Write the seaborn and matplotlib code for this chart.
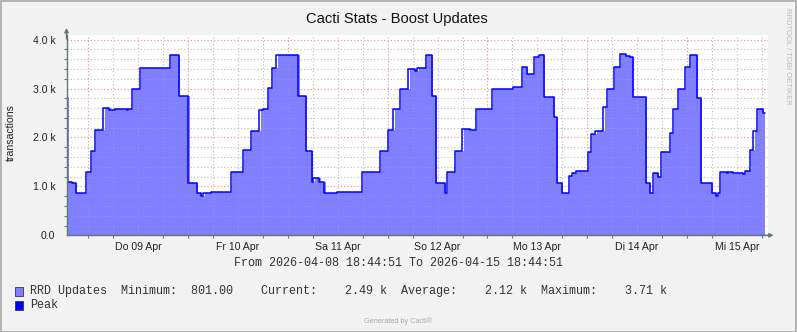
import matplotlib
matplotlib.use("Agg")
import matplotlib.pyplot as plt
import numpy as np
import pandas as pd
import seaborn as sns
from matplotlib.patches import Rectangle

# ---------------- data ----------------
# step start times (hours after 2026-04-08 18:44:51) and values (transactions)
hours = [0, 0.2, 1.4, 2.3, 4.7, 5.8, 6.9, 8.85, 10.3, 11.7, 14.5, 14.9, 15.8, 17.7,
         24.9, 27.1, 29.3, 31.3, 32.3, 32.9, 34.75, 39.6, 42.5, 44.4, 46.4, 47.2,
         48.4, 49.4, 50.45, 55.75, 57.6, 59.0, 59.35, 60.8, 62.0, 65.0, 71.1, 75.3,
         77.3, 78.6, 80.2, 82.2, 83.8, 84.4, 86.5, 87.8, 88.9, 90.95, 91.4, 93.4,
         95.2, 97.0, 98.5, 102.4, 107.4, 109.55, 110.75, 112.5, 113.6, 114.9, 117.2,
         117.9, 119.1, 120.8, 121.5, 122.5, 125.4, 126.2, 127.2, 129.1, 130.0, 131.7,
         133.1, 134.6, 135.5, 136.3, 139.4, 140.3, 141.0, 142.3, 143.0, 145.1, 145.9,
         147.1, 148.8, 149.95, 151.6, 152.6, 155.2, 156.2, 156.7, 157.2, 158.8, 159.2,
         160.3, 162.7, 163.25, 164.3, 165.2, 166.1, 167.5]
values = [2830, 1084, 1065, 871, 1288, 1718, 2147, 2603, 2570, 2580, 2560, 2580, 2992, 3415,
          3693, 2842, 1070, 858, 801, 858, 885, 1288, 1751, 2126, 2556, 2587,
          3018, 3415, 3693, 2842, 1718, 1084, 1180, 1084, 871, 885, 1294, 1718,
          2147, 2576, 2992, 3400, 3360, 3415, 3693, 2842, 1070, 858, 1294, 1718,
          2168, 2147, 2576, 2992, 3027, 3436, 3305, 3650, 3693, 2822, 2413,
          1070, 858, 1213, 1280, 1309, 1711, 2078, 2133, 2624, 2992, 3449,
          3710, 3667, 3650, 2822, 1070, 858, 1268, 1200, 1711, 2098, 2583,
          2985, 3436, 3693, 2815, 1070, 858, 804, 858, 1294, 1268, 1300,
          1280, 1260, 1315, 1745, 2133, 2583, 2495]
END_HOUR = 168

day_labels = ["Do 09 Apr", "Fr 10 Apr", "Sa 11 Apr", "So 12 Apr",
              "Mo 13 Apr", "Di 14 Apr", "Mi 15 Apr"]
first_midnight = 5.25  # hours from start to 2026-04-09 00:00
y_ticks = [0, 1000, 2000, 3000, 4000]
y_tick_labels = ["0.0", "1.0 k", "2.0 k", "3.0 k", "4.0 k"]

title = "Cacti Stats - Boost Updates"
ylabel = "transactions"
range_text = "From 2026-04-08 18:44:51 To 2026-04-15 18:44:51"
legend_rows = ["RRD Updates  Minimum:  801.00    Current:    2.49 k  Average:    2.12 k  Maximum:    3.71 k",
               "Peak"]

# ---------------- style ----------------
BG = "#F2F2F2"
AREA = "#7F7FFF"
LINE = "#0000FF"
AXIS = "#5F7A72"
MINOR_GRID = "#C4C4C4"
MAJOR_GRID = "#E39A9A"
AREA_LAG = 0.3

sns.set_theme(style="white")
plt.rcParams["font.family"] = ["Liberation Sans", "DejaVu Sans"]

W, H = 797, 332
fig = plt.figure(figsize=(W / 100, H / 100), dpi=100, facecolor=BG)

x0, x1 = 66.5, 768.0
yb, yt = 235.3, 35.0
px_per_hour = (765.0 - x0) / END_HOUR
ax = fig.add_axes([x0 / W, 1 - yb / H, (x1 - x0) / W, (yb - yt) / H])
ax.set_facecolor("white")

hx = list(hours) + [END_HOUR]
vy = list(values) + [values[-1]]
df = pd.DataFrame({"hours": hx, "value": vy})

area_x = np.array(hx, dtype=float) + AREA_LAG
area_x[0] = 0
area_x[-1] = END_HOUR
ax.fill_between(area_x, vy, step="post", color=AREA, lw=0, zorder=3)
sns.lineplot(data=df, x="hours", y="value", drawstyle="steps-post", color=LINE,
             lw=1.1, ax=ax, legend=False, zorder=4)

ax.set_xlim(0, (x1 - x0) / px_per_hour)
ax.set_ylim(0, 4096)

# grid (beneath, plus a faint copy over the area)
dotted = (0, (1, 2))
grid_x = np.arange(first_midnight, END_HOUR, 6)
for h in grid_x:
    is_major = abs(((h - first_midnight) / 24) - round((h - first_midnight) / 24)) < 1e-6
    c = MAJOR_GRID if is_major else MINOR_GRID
    ax.axvline(h, color=c, lw=0.8, ls=dotted, zorder=1)
    ax.axvline(h, color=c, lw=0.8, ls=dotted, zorder=3.5, alpha=0.3)
for v in np.arange(200, 4100, 200):
    c = MAJOR_GRID if v % 1000 == 0 else MINOR_GRID
    ax.axhline(v, color=c, lw=0.8, ls=dotted, zorder=1)
    ax.axhline(v, color=c, lw=0.8, ls=dotted, zorder=3.5, alpha=0.3)

# ticks
noons = [first_midnight + 12 + 24 * i for i in range(len(day_labels))]
ax.set_xticks(noons)
ax.set_xticklabels(day_labels)
ax.set_xticks(grid_x, minor=True)
ax.set_yticks(y_ticks)
ax.set_yticklabels(y_tick_labels)
ax.set_yticks(np.arange(0, 4100, 200), minor=True)
ax.tick_params(axis="x", which="major", length=0, pad=4.5, labelsize=7.6, colors="#222222")
ax.tick_params(axis="y", which="major", length=2.5, direction="out", width=0.8,
               color=AXIS, pad=5.5, labelsize=7.6, labelcolor="#222222")
ax.tick_params(which="minor", length=2.5, direction="out", width=0.8, color=AXIS)
ax.tick_params(axis="x", which="minor", bottom=True)
ax.tick_params(axis="y", which="minor", left=True)
ax.set_xlabel("")
ax.set_ylabel("")

for s in ["top", "right"]:
    ax.spines[s].set_visible(False)
for s in ["left", "bottom"]:
    ax.spines[s].set_color(AXIS)
    ax.spines[s].set_linewidth(1.0)
    ax.spines[s].set_zorder(5)

# arrows
ax.annotate("", xy=(0, 1.035), xytext=(0, 0.98), xycoords="axes fraction",
            arrowprops=dict(arrowstyle="-|>", color=AXIS, lw=1.0, mutation_scale=6,
                            shrinkA=0, shrinkB=0), annotation_clip=False)
ax.annotate("", xy=(1.008, 0), xytext=(0.99, 0), xycoords="axes fraction",
            arrowprops=dict(arrowstyle="-|>", color=AXIS, lw=1.0, mutation_scale=6,
                            shrinkA=0, shrinkB=0), annotation_clip=False)

# texts
fig.text(397 / W, 1 - 19.5 / H, title, ha="center", va="center", fontsize=10.6, color="#111111")
fig.text(11 / W, 1 - 133 / H, ylabel, ha="center", va="center", rotation=90,
         fontsize=7.6, color="#222222")
fig.text(788 / W, 1 - 56 / H, "RRDTOOL / TOBI OETIKER", ha="center", va="center",
         rotation=270, fontsize=5.5, color="#BBBBBB")
mono = ["Liberation Mono", "DejaVu Sans Mono"]
fig.text(398 / W, 1 - 263 / H, range_text, ha="center", va="center", fontsize=8.5,
         family=mono, color="#333333")
row_y = [291, 305]
row_colors = [AREA, LINE]
for txt, yy, c in zip(legend_rows, row_y, row_colors):
    fig.patches.append(Rectangle((15.3 / W, 1 - (yy + 4.5) / H), 7.5 / W, 9 / H,
                                 transform=fig.transFigure, facecolor=c,
                                 edgecolor="#333355", lw=0.6))
    fig.text(30 / W, 1 - yy / H, txt, ha="left", va="center", fontsize=8.5,
             family=mono, color="#333333")
fig.text(398 / W, 1 - 321.5 / H, "Generated by Cacti®", ha="center", va="center",
         fontsize=5.3, color="#AAAAAA")

fig.patches.append(Rectangle((0.5 / W, 0.5 / H), (W - 1.5) / W, (H - 1.5) / H,
                             transform=fig.transFigure, facecolor="none",
                             edgecolor="#A8A8A8", lw=1.2))

fig.savefig("out.png", dpi=100, facecolor=BG)
